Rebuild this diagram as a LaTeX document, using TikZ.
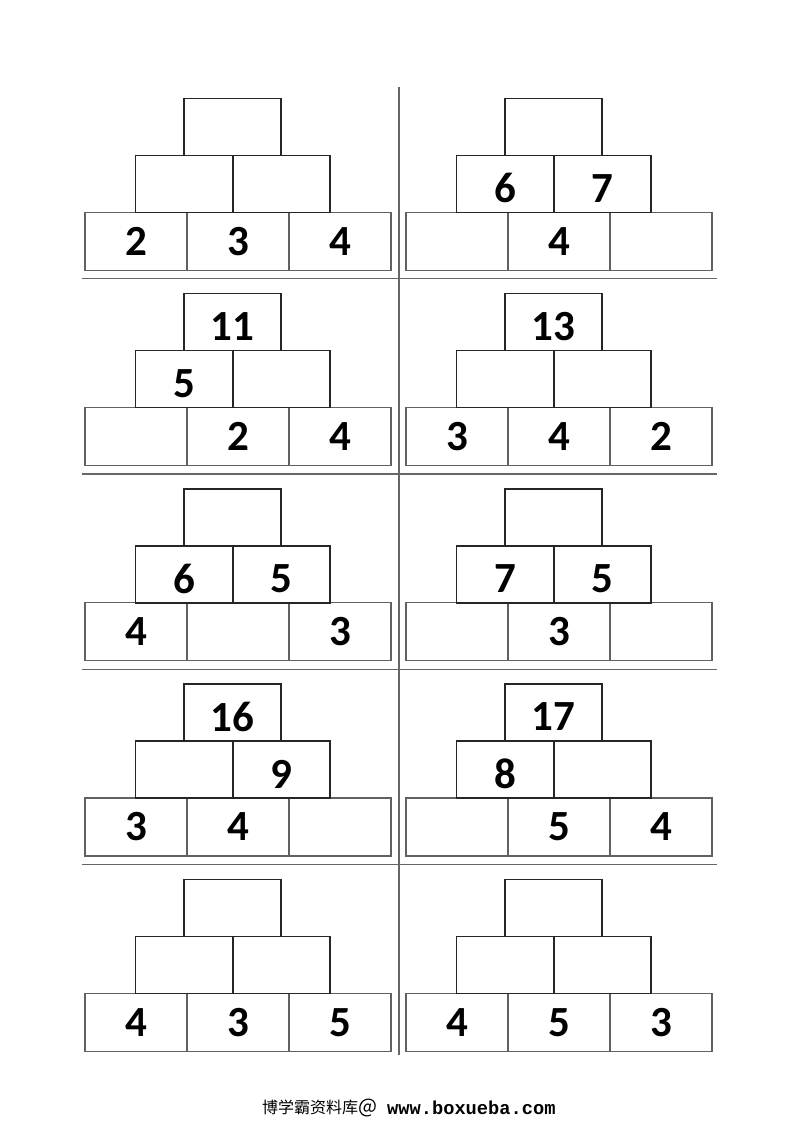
\documentclass[tikz,border=0pt]{standalone}
\usepackage{fontspec}
\newfontfamily\digitfont{Carlito}[BoldFont={Carlito Bold}]
\newfontfamily\cjk{Noto Sans CJK SC}
\newfontfamily\wmmono{Liberation Mono}
\tikzset{
  upbox/.style={draw=black!85, line width=1.5pt, rectangle, inner sep=0pt, minimum width=97pt, minimum height=57pt},
  lowbox/.style={draw=black!62, line width=1.2pt, rectangle, inner sep=0pt, minimum width=102pt, minimum height=58pt},
  num/.style={inner sep=0pt, font=\digitfont\bfseries\fontsize{43}{43}\selectfont, text=black},
  sepline/.style={draw=black!60, line width=1.3pt},
}
\newcommand\numat[3]{\if\relax\detokenize{#3}\relax\else
  \node[num] (#1n) at ([yshift=#2]#1.center) {#3};\fi}
% #1 name, #2 x of bottom-left box left edge, #3 y of top box top edge
\newcommand\pyra[9]{%
  \node[lowbox] (#1b1) at (#2+51, #3+143) {};
  \node[lowbox] (#1b2) at (#2+153, #3+143) {};
  \node[lowbox] (#1b3) at (#2+255, #3+143) {};
  \node[upbox] (#1m1) at (#2+99, #3+85.5) {};
  \node[upbox] (#1m2) at (#2+196.5, #3+85.5) {};
  \node[upbox] (#1t) at (#2+147.5, #3+28.5) {};
  \numat{#1t}{-4.5pt}{#4}
  \numat{#1m1}{-4.5pt}{#5}
  \numat{#1m2}{-4.5pt}{#6}
  \numat{#1b1}{0pt}{#7}
  \numat{#1b2}{0pt}{#8}
  \numat{#1b3}{0pt}{#9}
}
\begin{document}
\begin{tikzpicture}[x=1pt, y=-1pt]
\useasboundingbox (0,0) rectangle (800,1132);
\fill[white] (0,0) rectangle (800,1132);
% separators
\coordinate (va) at (399,87);
\coordinate (vb) at (399,1055);
\draw[sepline] (va) -- (vb);
\foreach \k/\yy in {1/278.7, 2/474, 3/669.2, 4/864.4}{
  \coordinate (h\k a) at (82,\yy);
  \coordinate (h\k b) at (717,\yy);
  \draw[sepline] (h\k a) -- (h\k b);
}
% pyramids
\pyra{pA}{85}{98.3}{}{}{}{2}{3}{4}
\pyra{pB}{406}{98.3}{}{6}{7}{}{4}{}
\pyra{pC}{85}{293.5}{11}{5}{}{}{2}{4}
\pyra{pD}{406}{293.5}{13}{}{}{3}{4}{2}
\pyra{pE}{85}{488.8}{}{6}{5}{4}{}{3}
\pyra{pF}{406}{488.8}{}{7}{5}{}{3}{}
\pyra{pG}{85}{684}{16}{}{9}{3}{4}{}
\pyra{pH}{406}{684}{17}{8}{}{}{5}{4}
\pyra{pI}{85}{879.3}{}{}{}{4}{3}{5}
\pyra{pJ}{406}{879.3}{}{}{}{4}{5}{3}
% watermark
\node[anchor=west, inner sep=0pt, font=\cjk\fontsize{16}{16}\selectfont] (wm1) at (262,1108) {博学霸资料库{\fontsize{20}{20}\selectfont @}};
\node[anchor=west, inner sep=0pt, font=\wmmono\bfseries\fontsize{18.7}{18.7}\selectfont] (wm2) at (387,1108) {www.boxueba.com};
\end{tikzpicture}
\end{document}
